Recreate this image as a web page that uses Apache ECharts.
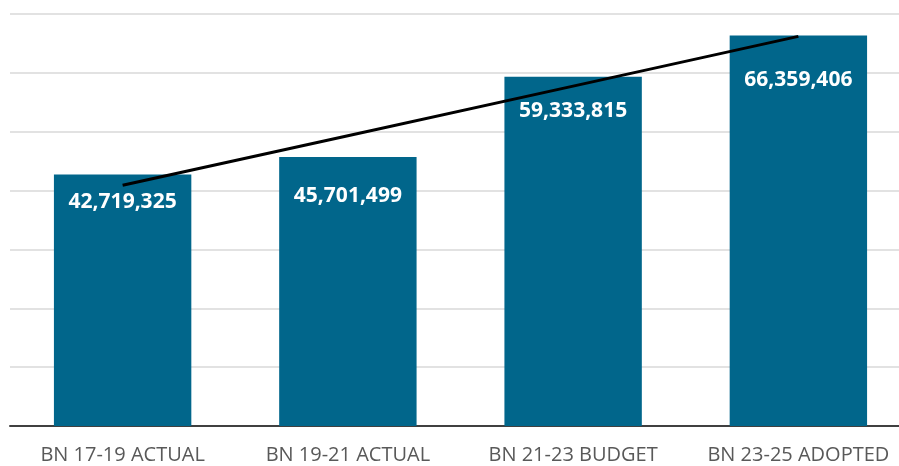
<!DOCTYPE html>
<html lang="en">
<head>
    <meta charset="UTF-8">
    <title>Biennium Budget</title>
    <script src="https://cdn.jsdelivr.net/npm/echarts@6.0.0/dist/echarts.min.js"></script>
    <style>
        html, body { margin: 0; padding: 0; background: #fff; }
        #chartContainer { width: 899px; height: 466px; }
    </style>
</head>
<body>
    <div id="chartContainer"></div>
    <script>
        // data
        const categories = ['BN 17-19 ACTUAL', 'BN 19-21 ACTUAL', 'BN 21-23 BUDGET', 'BN 23-25 ADOPTED'];
        const amounts = [42719325, 45701499, 59333815, 66359406];
        // trend line as drawn (estimated endpoints)
        const trend = [40900000, 49300000, 57750000, 66200000];

        // labels were nudged by hand in the original, one gap per bar (px below bar top)
        const labelGaps = [17, 29, 24, 34];

        const chart = echarts.init(document.getElementById('chartContainer'));

        const option = {
            animation: false,
            grid: {
                left: 10,
                right: -12,
                top: 14,
                bottom: 40,
                outerBoundsMode: 'none'
            },
            xAxis: {
                type: 'category',
                data: categories,
                axisTick: { show: false },
                axisLine: { lineStyle: { color: '#404040', width: 2 } },
                axisLabel: {
                    interval: 0,
                    color: '#595959',
                    fontFamily: 'Open Sans',
                    fontSize: 20,
                    margin: 19
                }
            },
            yAxis: {
                type: 'value',
                min: 0,
                max: 70000000,
                interval: 10000000,
                axisLabel: { show: false },
                axisLine: { show: false },
                axisTick: { show: false },
                splitLine: { lineStyle: { color: '#d9d9d9', width: 1.5 } }
            },
            series: [{
                type: 'bar',
                data: amounts.map((v, i) => ({
                    value: v,
                    label: { distance: labelGaps[i] }
                })),
                barWidth: '61%',
                itemStyle: { color: '#01668b' },
                label: {
                    show: true,
                    position: 'insideTop',
                    color: '#fff',
                    fontFamily: 'Open Sans',
                    fontWeight: 'bold',
                    fontSize: 21,
                    formatter: p => p.value.toLocaleString('en-US')
                }
            }, {
                type: 'line',
                data: trend,
                symbol: 'none',
                lineStyle: { color: '#000', width: 3 },
                z: 5
            }]
        };

        chart.setOption(option);
    </script>
</body>
</html>
